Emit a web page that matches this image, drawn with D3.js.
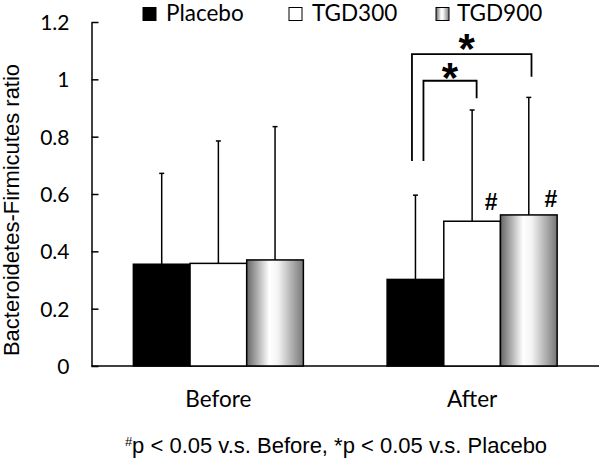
<!DOCTYPE html>
<html><head><meta charset="utf-8">
<script src="https://cdn.jsdelivr.net/npm/d3@7"></script>
<style>body{margin:0;background:#fff}</style>
</head><body>
<svg id="c" width="600" height="460"></svg>
<script>
const categories = ["Before", "After"];
const series = ["Placebo", "TGD300", "TGD900"];
const placebo = [0.355, 0.302];
const tgd300 = [0.358, 0.505];
const tgd900 = [0.370, 0.527];
const placeboErr = [0.317, 0.294];
const tgd300Err = [0.427, 0.388];
const tgd900Err = [0.465, 0.410];
const yTicks = [0, 0.2, 0.4, 0.6, 0.8, 1, 1.2];
const yTickLabels = ["0", "0.2", "0.4", "0.6", "0.8", "1", "1.2"];
// significance brackets (After group): series pair, top level, end levels
const bracketFrom = ["Placebo", "Placebo"];
const bracketTo = ["TGD300", "TGD900"];
const bracketTop = [0.995, 1.088];
const bracketLeftEnd = [0.715, 0.715];
const bracketRightEnd = [0.934, 1.009];
const hashSeries = ["TGD300", "TGD900"];

const values = [placebo, tgd300, tgd900];
const errs = [placeboErr, tgd300Err, tgd900Err];

const svg = d3.select("#c");
const defs = svg.append("defs");
const grad = defs.append("linearGradient").attr("id", "g900").attr("x1", "0%").attr("x2", "100%").attr("y1", "0%").attr("y2", "0%");
grad.append("stop").attr("offset", "0%").attr("stop-color", "#666");
grad.append("stop").attr("offset", "40%").attr("stop-color", "#fff");
grad.append("stop").attr("offset", "55%").attr("stop-color", "#f4f4f4");
grad.append("stop").attr("offset", "100%").attr("stop-color", "#777");
const fills = {Placebo: "#000", TGD300: "#fff", TGD900: "url(#g900)"};

const mLeft = 91.5, mRight = 599, mTop = 22, mBottom = 366;
const x0 = d3.scaleBand().domain(categories).range([mLeft, mRight]).paddingInner(0.33).paddingOuter(0.165);
const x1 = d3.scaleBand().domain(series).range([0, x0.bandwidth()]);
const y = d3.scaleLinear().domain([0, 1.2]).range([mBottom, mTop]);

// axes
const yAxis = d3.axisLeft(y).tickValues(yTicks).tickFormat((d, i) => yTickLabels[i]).tickSizeInner(-7).tickSizeOuter(0).tickPadding(22);
const gy = svg.append("g").attr("transform", `translate(${mLeft},0)`).call(yAxis);
gy.select(".domain").attr("stroke", "#000").attr("stroke-width", 1.5);
gy.selectAll(".tick line").attr("stroke-width", 1.5);
gy.selectAll("text").attr("font-family", "Lato").attr("font-size", 21).attr("fill", "#000").attr("dy", "0.36em");

const xAxis = d3.axisBottom(x0).tickSize(0).tickPadding(22);
const gx = svg.append("g").attr("transform", `translate(0,${mBottom})`).call(xAxis);
gx.select(".domain").attr("stroke", "#000").attr("stroke-width", 1.5).attr("d", `M${mLeft},0H${mRight}`);
gx.selectAll("text").attr("font-family", "Lato").attr("font-size", 22.5).attr("fill", "#000").attr("y", 41).attr("dy", 0);

// error bars (drawn before bars so bars cover lower part)
series.forEach((s, si) => {
  categories.forEach((c, ci) => {
    const cx = x0(c) + x1(s) + x1.bandwidth() / 2;
    const v = values[si][ci], e = errs[si][ci];
    svg.append("line").attr("x1", cx).attr("x2", cx).attr("y1", y(v)).attr("y2", y(v + e)).attr("stroke", "#000").attr("stroke-width", 1.5);
    svg.append("line").attr("x1", cx - 2.5).attr("x2", cx + 2.5).attr("y1", y(v + e)).attr("y2", y(v + e)).attr("stroke", "#000").attr("stroke-width", 1.5);
  });
});

// bars
series.forEach((s, si) => {
  svg.append("g").selectAll("rect").data(categories).join("rect")
    .attr("x", c => x0(c) + x1(s))
    .attr("width", x1.bandwidth())
    .attr("y", (c, ci) => y(values[si][ci]))
    .attr("height", (c, ci) => mBottom - y(values[si][ci]))
    .attr("fill", fills[s]).attr("stroke", "#000").attr("stroke-width", 1.5);
});

// brackets
const leftOff = [8, -3.5], rightOff = [4.5, 2.7], starDx = [0, -5], starDy = [11, 8.5];
bracketFrom.forEach((f, i) => {
  const xa = x0("After") + x1(f) + x1.bandwidth() / 2 + leftOff[i];
  const xb = x0("After") + x1(bracketTo[i]) + x1.bandwidth() / 2 + rightOff[i];
  svg.append("path").attr("d", `M${xa},${y(bracketLeftEnd[i])}V${y(bracketTop[i])}H${xb}V${y(bracketRightEnd[i])}`)
    .attr("fill", "none").attr("stroke", "#000").attr("stroke-width", 1.8);
  svg.append("text").attr("x", (xa + xb) / 2 + starDx[i]).attr("y", y(bracketTop[i]) + starDy[i])
    .attr("text-anchor", "middle").attr("font-family", "Liberation Sans").attr("font-weight", "bold").attr("font-size", 42).text("*");
});

// hash marks
const hashDy = [-11, -8], hashDx = [19, 22];
hashSeries.forEach((s, i) => {
  const ci = categories.indexOf("After");
  const si = series.indexOf(s);
  const cx = x0("After") + x1(s) + x1.bandwidth() / 2;
  svg.append("text").attr("x", cx + hashDx[i]).attr("y", y(values[si][ci]) + hashDy[i])
    .attr("text-anchor", "middle").attr("font-family", "Liberation Sans").attr("font-weight", "bold").attr("font-size", 23).text("#");
});

// legend
const legX = [143, 289, 436], legTextX = [166, 312, 457];
series.forEach((s, i) => {
  svg.append("rect").attr("x", legX[i]).attr("y", 7.5).attr("width", 13).attr("height", 13)
    .attr("fill", fills[s]).attr("stroke", "#000").attr("stroke-width", 1);
  svg.append("text").attr("x", legTextX[i]).attr("y", 21).attr("font-family", "Lato").attr("font-size", 22.5).text(s);
});

// y title
svg.append("text").attr("transform", "translate(18.5,210) rotate(-90)").attr("text-anchor", "middle")
  .attr("font-family", "Liberation Sans").attr("font-size", 22).text("Bacteroidetes-Firmicutes ratio");

// footnote
const fn = svg.append("text").attr("x", 336).attr("y", 453).attr("text-anchor", "middle")
  .attr("font-family", "Liberation Sans").attr("font-size", 22);
fn.append("tspan").attr("font-size", 13).attr("dy", -7).text("#");
fn.append("tspan").attr("dy", 7).text("p < 0.05 v.s. Before, *p < 0.05 v.s. Placebo");
</script>
</body></html>
